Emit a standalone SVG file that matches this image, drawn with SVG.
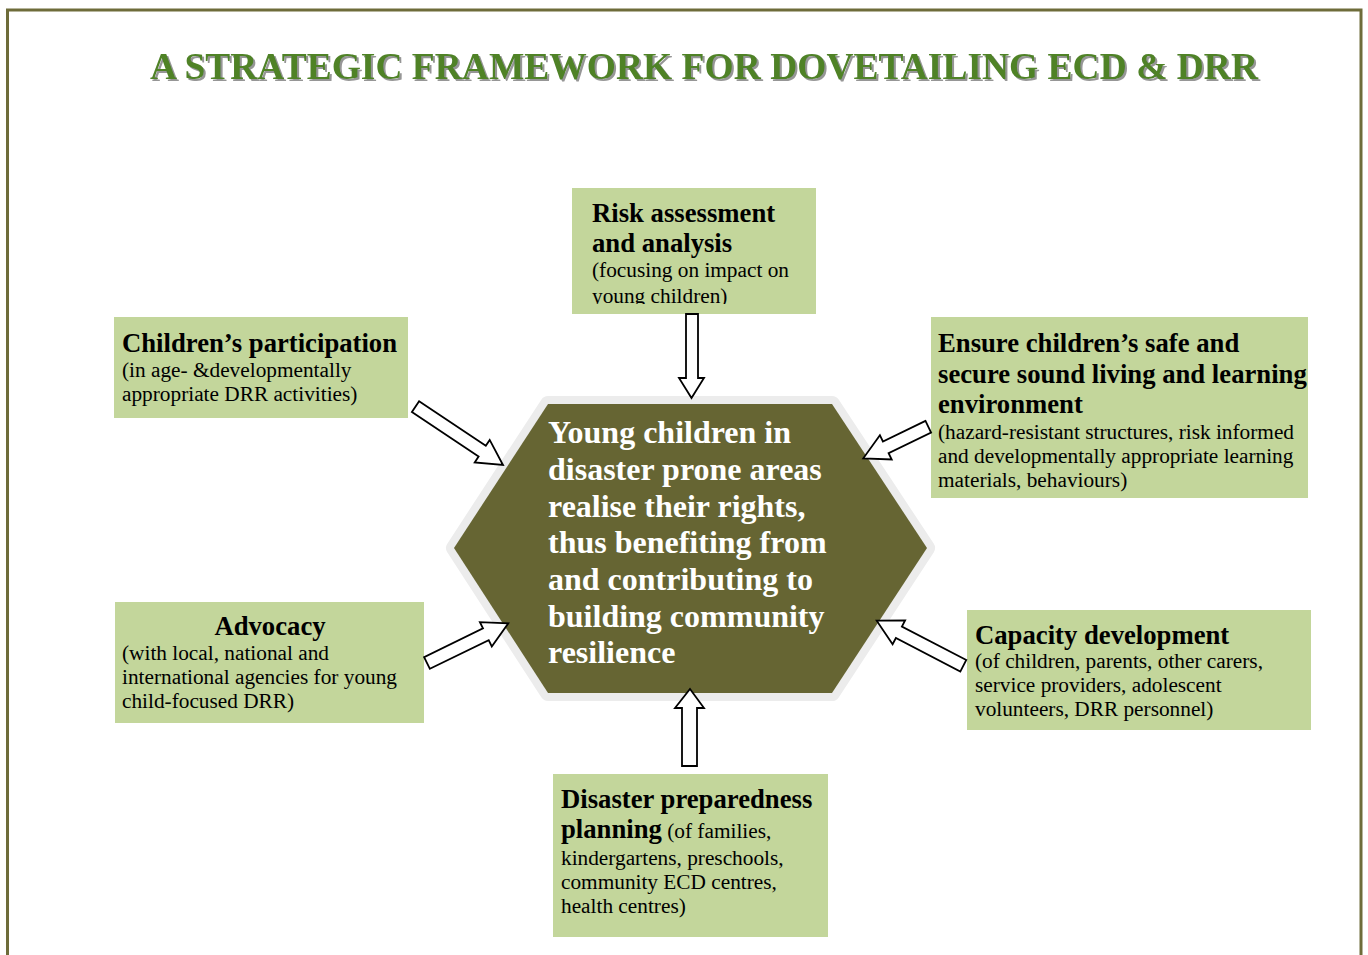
<svg xmlns="http://www.w3.org/2000/svg" width="1368" height="955" viewBox="0 0 1368 955">
<style>
.box{fill:#c3d69b}
.h{font-family:"Liberation Serif","Times New Roman",serif;font-weight:bold;font-size:26.7px;fill:#000}
.t{font-family:"Liberation Serif","Times New Roman",serif;font-size:21.3px;fill:#000}
.hx{font-family:"Liberation Serif","Times New Roman",serif;font-weight:bold;font-size:32px;fill:#fff}
.arrow{fill:#fff;stroke:#000;stroke-width:1.8;stroke-linejoin:miter}
</style>
<defs>
<filter id="sh" x="-5%" y="-30%" width="110%" height="160%">
<feDropShadow dx="2" dy="2" stdDeviation="0.7" flood-color="#8a8a8a" flood-opacity="0.9"/>
</filter>
<clipPath id="riskclip"><rect x="572" y="188" width="244" height="116"/></clipPath>
</defs>
<rect x="0" y="0" width="1368" height="955" fill="#fff"/>
<rect id="frame" x="7.5" y="10" width="1353.5" height="1000" fill="none" stroke="#6e6c3a" stroke-width="3"/>
<g id="title">
<text x="150" y="79" font-family="'Liberation Serif','Times New Roman',serif" font-weight="bold" font-size="38" fill="#4f8228" textLength="1108" lengthAdjust="spacingAndGlyphs" filter="url(#sh)">A STRATEGIC FRAMEWORK FOR DOVETAILING ECD &amp; DRR</text>
</g>
<g id="center">
<polygon points="548,404 832,404 927,548 832,693 548,693 454,548" fill="#ececec" stroke="#ececec" stroke-width="16" stroke-linejoin="round"/>
<polygon points="548,404 832,404 927,548 832,693 548,693 454,548" fill="#666533"/>
<text class="hx" x="548" y="443">Young children in</text>
<text class="hx" x="548" y="480">disaster prone areas</text>
<text class="hx" x="548" y="516.5">realise their rights,</text>
<text class="hx" x="548" y="553">thus benefiting from</text>
<text class="hx" x="548" y="590">and contributing to</text>
<text class="hx" x="548" y="626.5">building community</text>
<text class="hx" x="548" y="663">resilience</text>
</g>
<g id="risk">
<rect class="box" x="572" y="188" width="244" height="126"/>
<g clip-path="url(#riskclip)">
<text class="h" x="592" y="222">Risk assessment</text>
<text class="h" x="592" y="252">and analysis</text>
<text class="t" x="592" y="277">(focusing on impact on</text>
<text class="t" x="592" y="302.5">young children)</text>
</g>
</g>
<g id="participation">
<rect class="box" x="114" y="317" width="294" height="101"/>
<text class="h" x="122" y="352">Children’s participation</text>
<text class="t" x="122" y="377">(in age- &amp;developmentally</text>
<text class="t" x="122" y="401">appropriate DRR activities)</text>
</g>
<g id="environment">
<rect class="box" x="931" y="317" width="377" height="181"/>
<text class="h" x="938" y="352">Ensure children’s safe and</text>
<text class="h" x="938" y="383">secure sound living and learning</text>
<text class="h" x="938" y="413">environment</text>
<text class="t" x="938" y="439">(hazard-resistant structures, risk informed</text>
<text class="t" x="938" y="463">and developmentally appropriate learning</text>
<text class="t" x="938" y="487">materials, behaviours)</text>
</g>
<g id="advocacy">
<rect class="box" x="115" y="602" width="309" height="121"/>
<text class="h" x="270" y="635" text-anchor="middle">Advocacy</text>
<text class="t" x="122" y="660">(with local, national and</text>
<text class="t" x="122" y="684">international agencies for young</text>
<text class="t" x="122" y="708">child-focused DRR)</text>
</g>
<g id="capacity">
<rect class="box" x="967" y="610" width="344" height="120"/>
<text class="h" x="975" y="644">Capacity development</text>
<text class="t" x="975" y="668">(of children, parents, other carers,</text>
<text class="t" x="975" y="692">service providers, adolescent</text>
<text class="t" x="975" y="716">volunteers, DRR personnel)</text>
</g>
<g id="preparedness">
<rect class="box" x="553" y="774" width="275" height="163"/>
<text class="h" x="561" y="808">Disaster preparedness</text>
<text x="561" y="838"><tspan class="h">planning</tspan><tspan class="t"> (of families,</tspan></text>
<text class="t" x="561" y="865">kindergartens, preschools,</text>
<text class="t" x="561" y="889">community ECD centres,</text>
<text class="t" x="561" y="913">health centres)</text>
</g>
<g id="connectors">
<polygon class="arrow" points="686,314 698,314 698,378 704,378 691.5,398 679,378 686,378"/>
<polygon class="arrow" points="690,689 704,708 697,708 697,766 682,766 682,708 675,708"/>
<polygon class="arrow" points="411.9,412.1 478.6,456.5 474.7,462.4 503,465 489.7,439.9 485.8,445.7 419.1,401.3"/>
<polygon class="arrow" points="429.9,668.8 488.7,640.1 491.8,646.4 508.3,623.3 479.9,622.1 483,628.4 424.1,657.2"/>
<polygon class="arrow" points="925.5,420.9 882.9,441.5 879.9,435.2 863.3,458.3 891.7,459.5 888.6,453.2 931.1,432.5"/>
<polygon class="arrow" points="966.3,660 901.9,626.5 905.1,620.3 876.7,620.7 892.6,644.2 895.9,638 960.3,671.6"/>
</g>
</svg>
